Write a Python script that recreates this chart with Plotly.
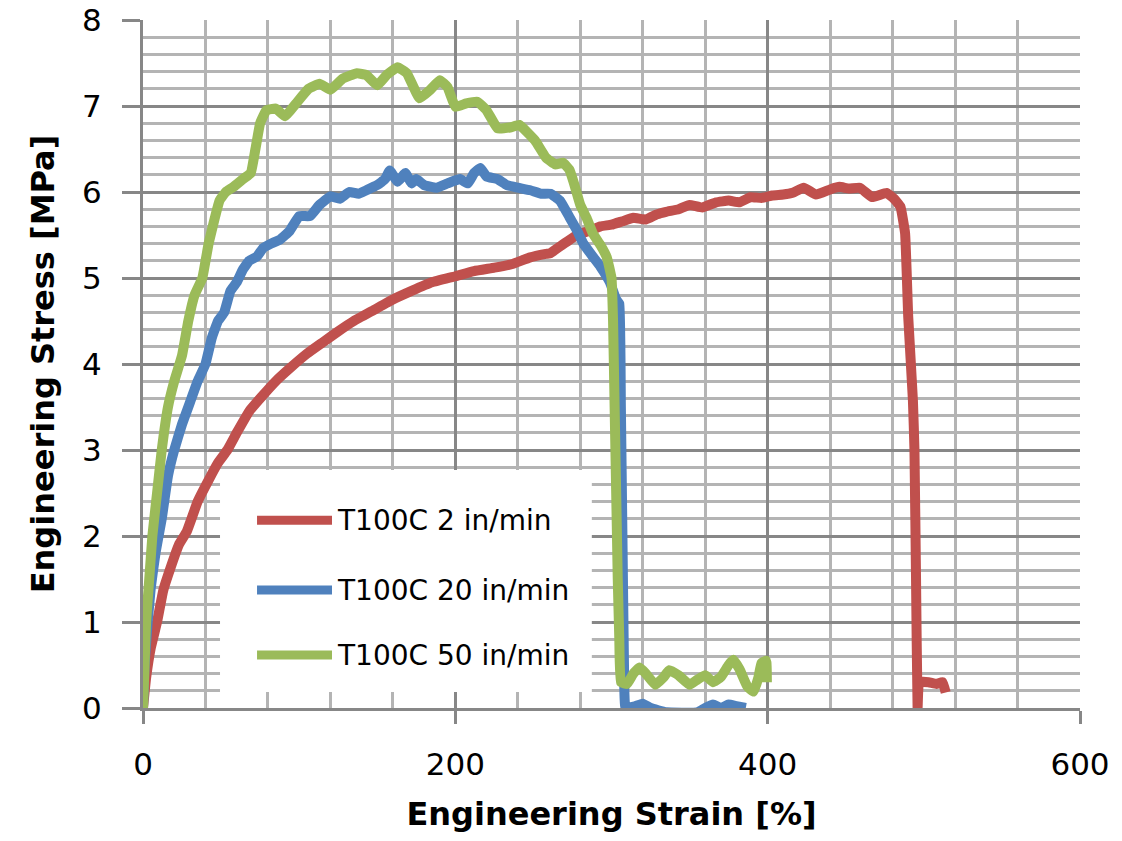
import plotly.graph_objects as go

# ---------------- data ----------------
red_x = [0, 2, 5, 9, 13, 18, 23, 28, 35, 42, 48, 54, 60, 68, 76, 85, 94, 105, 115, 125,
         135, 148, 160, 172, 185, 200, 212, 225, 236, 248, 258, 261, 268, 278, 286, 293,
         300, 307, 314, 322, 329, 335, 343, 350, 358, 367, 375, 382, 389, 396, 403, 410,
         416, 423, 431, 440, 446, 452, 459, 467, 476, 481, 485, 488, 490, 493, 494, 495,
         496, 497, 503, 508, 512, 514]
red_y = [0, 0.35, 0.7, 1.0, 1.37, 1.65, 1.9, 2.05, 2.4, 2.65, 2.85, 3.0, 3.2, 3.45, 3.62,
         3.8, 3.95, 4.12, 4.25, 4.38, 4.5, 4.63, 4.75, 4.85, 4.95, 5.02, 5.08, 5.12, 5.16,
         5.24, 5.28, 5.29, 5.38, 5.5, 5.55, 5.6, 5.62, 5.66, 5.7, 5.68, 5.74, 5.77, 5.8,
         5.85, 5.82, 5.88, 5.9, 5.88, 5.94, 5.93, 5.96, 5.97, 5.99, 6.05, 5.97, 6.03, 6.06,
         6.04, 6.05, 5.94, 5.99, 5.92, 5.83, 5.52, 4.55, 3.58, 3.0, 1.5, 0.0, 0.3, 0.3,
         0.28, 0.3, 0.18]

blue_x = [0, 1, 3, 5, 8, 12, 16, 20, 25, 30, 35, 40, 44, 48, 52, 56, 60, 64, 68, 73, 77,
          82, 88, 94, 100, 107, 113, 120, 126, 132, 138, 143, 150, 155, 158, 163, 168, 172,
          175, 180, 188, 195, 203, 208, 212, 216, 220, 227, 233, 240, 248, 255, 261, 267,
          273, 278, 282, 288, 293, 299, 303, 305, 306, 307, 308, 309, 315, 320, 325, 335,
          355, 360, 365, 370, 375, 380, 386]
blue_y = [0, 0.5, 1.0, 1.4, 1.8, 2.2, 2.7, 3.0, 3.3, 3.55, 3.8, 4.0, 4.3, 4.5, 4.6, 4.85,
          4.95, 5.1, 5.2, 5.25, 5.35, 5.4, 5.45, 5.55, 5.72, 5.72, 5.85, 5.95, 5.92, 6.0,
          5.98, 6.02, 6.08, 6.15, 6.25, 6.12, 6.22, 6.1, 6.15, 6.08, 6.05, 6.1, 6.15, 6.1,
          6.22, 6.28, 6.18, 6.15, 6.08, 6.05, 6.02, 5.98, 5.98, 5.9, 5.71, 5.55, 5.4, 5.25,
          5.13, 4.95, 4.75, 4.7, 3.5, 2.0, 0.5, 0.0, 0.02, 0.05, 0.0, -0.05, -0.05, 0.0,
          0.04, 0.0, 0.04, 0.02, 0.0]

green_x = [0, 1, 2, 4, 6, 9, 12, 16, 20, 25, 29, 33, 38, 42, 46, 49, 53, 58, 64, 69, 72,
           75, 79, 85, 91, 98, 106, 113, 120, 128, 137, 143, 150, 156, 163, 169, 177, 184,
           190, 195, 200, 207, 214, 220, 227, 235, 241, 251, 258, 264, 269, 273, 276, 280,
           284, 288, 293, 297, 300, 301, 302, 303, 304, 305, 306, 310, 314, 318, 322, 328,
           333, 337, 343, 350, 355, 360, 365, 370, 375, 378, 382, 387, 391, 394, 396, 399,
           399.5]
green_y = [0, 0.5, 1.0, 1.5, 2.0, 2.5, 3.0, 3.5, 3.8, 4.1, 4.5, 4.8, 5.0, 5.4, 5.7, 5.9,
           6.0, 6.06, 6.15, 6.22, 6.5, 6.8, 6.95, 6.97, 6.88, 7.03, 7.2, 7.26, 7.19, 7.32,
           7.38, 7.36, 7.24, 7.36, 7.45, 7.38, 7.09, 7.19, 7.3, 7.22, 6.99, 7.03, 7.05, 6.95,
           6.74, 6.75, 6.78, 6.6, 6.4, 6.32, 6.34, 6.26, 6.1, 5.85, 5.7, 5.52, 5.38, 5.24,
           5.0, 4.5, 3.5, 2.5, 1.5, 0.8, 0.3, 0.28, 0.4, 0.47, 0.4, 0.27, 0.35, 0.44, 0.38,
           0.27, 0.33, 0.38, 0.3, 0.36, 0.5, 0.56, 0.45, 0.25, 0.19, 0.35, 0.52, 0.55, 0.3]

series_names = ["T100C 2 in/min", "T100C 20 in/min", "T100C 50 in/min"]
series_colors = ["#C0504D", "#4F81BD", "#9BBB59"]

x_ticks = [0, 200, 400, 600]
y_ticks = [0, 1, 2, 3, 4, 5, 6, 7, 8]

# ---------------- figure ----------------
fig = go.Figure()
for xs, ys, name, col in zip([red_x, blue_x, green_x], [red_y, blue_y, green_y],
                             series_names, series_colors):
    fig.add_trace(go.Scatter(x=xs, y=ys, mode="lines", name=name, showlegend=False,
                             line=dict(color=col, width=10, shape="spline", smoothing=0.3)))

major = "#878787"
minor = "#b4b4b4"
font_family = "DejaVu Sans"

fig.update_layout(
    width=1122, height=841,
    margin=dict(l=143, r=42, t=20, b=133, autoexpand=False),
    paper_bgcolor="white", plot_bgcolor="white",
    font=dict(family=font_family, color="#000000"),
    showlegend=False,
    xaxis=dict(
        range=[0, 600], tickvals=x_ticks, ticktext=[str(v) for v in x_ticks],
        automargin=False,
        showgrid=True, gridcolor=major, gridwidth=3,
        minor=dict(dtick=40, tick0=0, showgrid=True, gridcolor=minor, gridwidth=3, ticks=""),
        showline=True, linecolor=major, linewidth=3,
        ticks="outside", ticklen=13, tickwidth=3, tickcolor=major,
        tickfont=dict(size=31, family=font_family), ticklabelstandoff=14,
        zeroline=False,
        title=dict(text="<b>Engineering Strain [%]</b>", font=dict(size=32, family=font_family),
                   standoff=22),
    ),
    yaxis=dict(
        range=[0, 8], tickvals=y_ticks, ticktext=[str(v) for v in y_ticks],
        automargin=False,
        showgrid=True, gridcolor=major, gridwidth=3,
        minor=dict(dtick=0.2, tick0=0, showgrid=True, gridcolor=minor, gridwidth=3, ticks=""),
        showline=True, linecolor=major, linewidth=3,
        ticks="outside", ticklen=18, tickwidth=3, tickcolor=major,
        tickfont=dict(size=31, family=font_family), ticklabelstandoff=14,
        zeroline=False,
        title=dict(text="<b>Engineering Stress [MPa]</b>", font=dict(size=32, family=font_family),
                   standoff=18),
    ),
)

# ---------------- manual legend ----------------
fig.add_shape(type="rect", xref="paper", yref="paper", x0=0.0822, x1=0.479, y0=0.0233, y1=0.346,
              fillcolor="white", line=dict(width=0), layer="above")
legend_y = [0.273, 0.1715, 0.077]
for ly, name, col in zip(legend_y, series_names, series_colors):
    fig.add_shape(type="line", xref="paper", yref="paper", x0=0.1217, x1=0.2017, y0=ly, y1=ly,
                  line=dict(color=col, width=9), layer="above")
    fig.add_annotation(x=0.2045, y=ly, xref="paper", yref="paper", text=name, showarrow=False,
                       xanchor="left", yanchor="middle", font=dict(size=28, family=font_family))

fig.write_html("out.html")
